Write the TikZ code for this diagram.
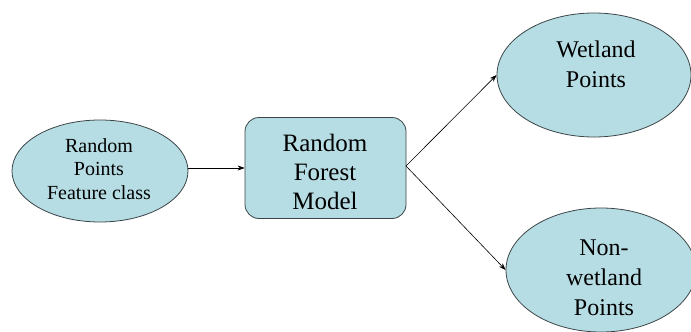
\documentclass[tikz,border=0pt]{standalone}
\usepackage{fontspec}
\setmainfont{Liberation Serif}
\usetikzlibrary{shapes.geometric,arrows.meta}
\definecolor{nodefill}{RGB}{183,221,228}
\definecolor{nodeline}{RGB}{60,70,72}
\begin{document}
\begin{tikzpicture}[x=1pt,y=-1pt,
  blob/.style={ellipse,draw=nodeline,fill=nodefill,line width=0.8pt,inner sep=0pt},
  modelbox/.style={rectangle,rounded corners=14pt,draw=nodeline,fill=nodefill,line width=0.8pt,inner sep=0pt},
  caption/.style={inner sep=0pt,align=center,text=black},
  link/.style={draw=black,line width=0.6pt,-{Stealth[length=7pt,width=5pt]}}]
  \useasboundingbox (0,0) rectangle (691,332);
  \fill[white] (0,0) rectangle (691,332);
  % shapes
  \node[blob,minimum width=176pt,minimum height=102pt] (src) at (100,171) {};
  \node[modelbox,minimum width=161pt,minimum height=101pt] (rf) at (325.5,168) {};
  \node[blob,minimum width=194pt,minimum height=124pt] (wet) at (594,75) {};
  \node[blob,minimum width=190pt,minimum height=124pt] (non) at (601,270) {};
  % texts
  \node[caption,font=\fontsize{20}{23.5}\selectfont] (srctext) at (99,169) {Random\\Points\\Feature class};
  \node[caption,font=\fontsize{25}{29}\selectfont] (rftext) at (325,172) {Random\\Forest\\Model};
  \node[caption,font=\fontsize{24}{30}\selectfont] (wettext) at (596,64) {Wetland\\Points};
  \node[caption,font=\fontsize{24}{30}\selectfont] (nontext) at (604,278) {Non-\\wetland\\Points};
  % connectors
  \coordinate (rfout) at (406,166);
  \draw[link] (src.east |- 0,168) -- (rf.west |- 0,168);
  \draw[link] (rfout) -- (wet.west);
  \draw[link] (rfout) -- (non.west);
\end{tikzpicture}
\end{document}
